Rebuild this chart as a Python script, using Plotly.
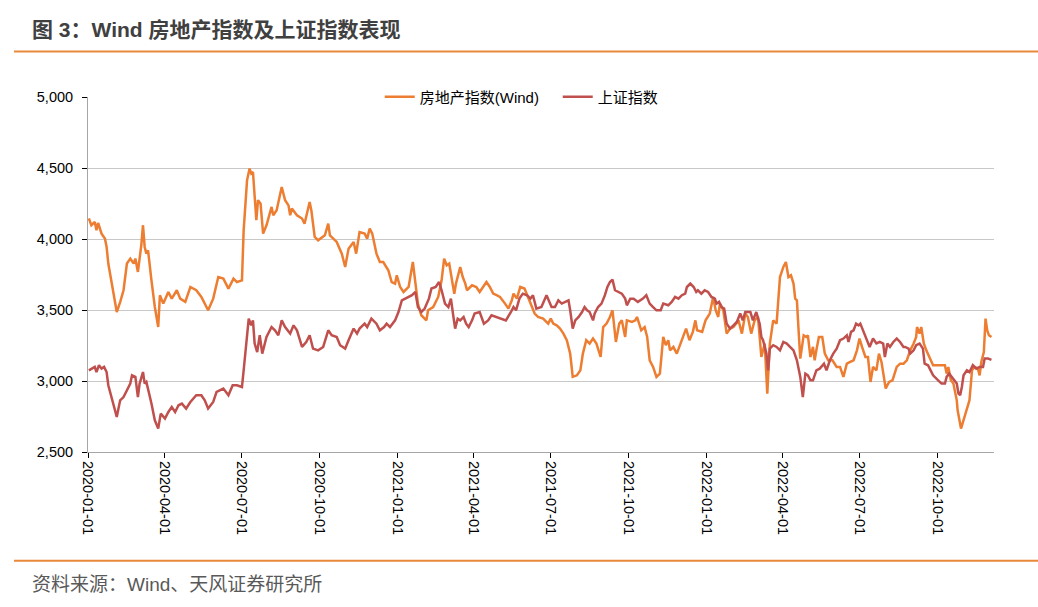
import plotly.graph_objects as go

# ---------------- data ----------------
re_dates = [
    "2020-01-02", "2020-01-05", "2020-01-09", "2020-01-11", "2020-01-13", "2020-01-17", "2020-01-21", "2020-01-23",
    "2020-01-25", "2020-02-04", "2020-02-08", "2020-02-12", "2020-02-16", "2020-02-20", "2020-02-24", "2020-02-26",
    "2020-02-29", "2020-03-02", "2020-03-04", "2020-03-06", "2020-03-08", "2020-03-10", "2020-03-12", "2020-03-16",
    "2020-03-20", "2020-03-24", "2020-03-26", "2020-03-30", "2020-04-05", "2020-04-09", "2020-04-15", "2020-04-19",
    "2020-04-25", "2020-05-01", "2020-05-08", "2020-05-14", "2020-05-22", "2020-05-28", "2020-06-03", "2020-06-09",
    "2020-06-15", "2020-06-21", "2020-06-25", "2020-07-01", "2020-07-03", "2020-07-07", "2020-07-10", "2020-07-12",
    "2020-07-14", "2020-07-18", "2020-07-20", "2020-07-23", "2020-07-26", "2020-07-30", "2020-08-05", "2020-08-07",
    "2020-08-11", "2020-08-17", "2020-08-21", "2020-08-25", "2020-08-27", "2020-08-29", "2020-09-04", "2020-09-10",
    "2020-09-13", "2020-09-19", "2020-09-21", "2020-09-25", "2020-09-29", "2020-10-07", "2020-10-11", "2020-10-13",
    "2020-10-21", "2020-10-27", "2020-10-31", "2020-11-04", "2020-11-10", "2020-11-13", "2020-11-17", "2020-11-23",
    "2020-11-26", "2020-11-29", "2020-12-02", "2020-12-07", "2020-12-11", "2020-12-15", "2020-12-19", "2020-12-21",
    "2020-12-25", "2020-12-29", "2020-12-31", "2021-01-04", "2021-01-08", "2021-01-14", "2021-01-19", "2021-01-22",
    "2021-01-25", "2021-01-29", "2021-02-04", "2021-02-06", "2021-02-12", "2021-02-18", "2021-02-22", "2021-02-25",
    "2021-02-28", "2021-03-03", "2021-03-06", "2021-03-09", "2021-03-11", "2021-03-16", "2021-03-19", "2021-03-22",
    "2021-03-24", "2021-03-30", "2021-04-04", "2021-04-08", "2021-04-12", "2021-04-16", "2021-04-20", "2021-04-24",
    "2021-04-28", "2021-05-02", "2021-05-08", "2021-05-12", "2021-05-16", "2021-05-18", "2021-05-22", "2021-05-26",
    "2021-05-31", "2021-06-04", "2021-06-08", "2021-06-12", "2021-06-16", "2021-06-22", "2021-06-28", "2021-07-01",
    "2021-07-04", "2021-07-08", "2021-07-12", "2021-07-16", "2021-07-20", "2021-07-24", "2021-07-27", "2021-08-01",
    "2021-08-05", "2021-08-08", "2021-08-12", "2021-08-16", "2021-08-20", "2021-08-24", "2021-08-29", "2021-09-01",
    "2021-09-05", "2021-09-09", "2021-09-12", "2021-09-16", "2021-09-20", "2021-09-23", "2021-09-27", "2021-09-29",
    "2021-10-05", "2021-10-09", "2021-10-11", "2021-10-16", "2021-10-20", "2021-10-23", "2021-10-26", "2021-10-30",
    "2021-11-03", "2021-11-07", "2021-11-11", "2021-11-14", "2021-11-17", "2021-11-19", "2021-11-23", "2021-11-27",
    "2021-11-30", "2021-12-03", "2021-12-08", "2021-12-12", "2021-12-16", "2021-12-19", "2021-12-21", "2021-12-27",
    "2021-12-31", "2022-01-05", "2022-01-09", "2022-01-12", "2022-01-15", "2022-01-17", "2022-01-21", "2022-01-25",
    "2022-01-29", "2022-02-02", "2022-02-08", "2022-02-12", "2022-02-16", "2022-02-19", "2022-02-23", "2022-02-27",
    "2022-03-03", "2022-03-07", "2022-03-11", "2022-03-14", "2022-03-17", "2022-03-21", "2022-03-25", "2022-03-29",
    "2022-04-02", "2022-04-05", "2022-04-08", "2022-04-11", "2022-04-14", "2022-04-16", "2022-04-18", "2022-04-20",
    "2022-04-22", "2022-04-26", "2022-04-29", "2022-05-01", "2022-05-04", "2022-05-07", "2022-05-09", "2022-05-11",
    "2022-05-14", "2022-05-18", "2022-05-21", "2022-05-25", "2022-05-30", "2022-06-04", "2022-06-08", "2022-06-12",
    "2022-06-16", "2022-06-20", "2022-06-24", "2022-06-28", "2022-07-01", "2022-07-04", "2022-07-08", "2022-07-11",
    "2022-07-14", "2022-07-17", "2022-07-21", "2022-07-24", "2022-07-27", "2022-08-01", "2022-08-05", "2022-08-09",
    "2022-08-14", "2022-08-18", "2022-08-22", "2022-08-26", "2022-08-30", "2022-09-03", "2022-09-06", "2022-09-07",
    "2022-09-10", "2022-09-12", "2022-09-15", "2022-09-18", "2022-09-22", "2022-09-26", "2022-10-04", "2022-10-10",
    "2022-10-12", "2022-10-14", "2022-10-17", "2022-10-20", "2022-10-24", "2022-10-25", "2022-10-29", "2022-11-01",
    "2022-11-05", "2022-11-08", "2022-11-11", "2022-11-14", "2022-11-18", "2022-11-20", "2022-11-22", "2022-11-25",
    "2022-11-27", "2022-11-29", "2022-12-01", "2022-12-04",
]
re_values = [
    4144, 4097, 4120, 4061, 4113, 4038, 4003, 3944,
    3827, 3486, 3556, 3639, 3827, 3862, 3827, 3862,
    3768, 3862, 3956, 4097, 3944, 3897, 3920, 3709,
    3521, 3380, 3604, 3545, 3627, 3580, 3639, 3580,
    3557, 3662, 3639, 3592, 3498, 3580, 3732, 3721,
    3651, 3721, 3697, 3709, 4061, 4413, 4496, 4461,
    4472, 4132, 4273, 4249, 4038, 4097, 4226, 4167,
    4202, 4366, 4273, 4237, 4167, 4214, 4167, 4144,
    4108, 4261, 4202, 4014, 3991, 4026, 4108, 4026,
    3979, 3897, 3803, 3932, 3979, 3897, 4049, 4038,
    4003, 4073, 4038, 3897, 3838, 3838, 3803, 3780,
    3697, 3686, 3744, 3662, 3627, 3662, 3838, 3686,
    3545, 3463, 3427, 3498, 3521, 3592, 3709, 3862,
    3815, 3827, 3709, 3615, 3686, 3803, 3732, 3686,
    3639, 3674, 3662, 3627, 3662, 3697, 3662, 3615,
    3604, 3592, 3545, 3510, 3568, 3615, 3580, 3662,
    3651, 3592, 3545, 3475, 3451, 3439, 3404, 3439,
    3404, 3392, 3369, 3334, 3287, 3193, 3029, 3040,
    3075, 3193, 3287, 3264, 3299, 3264, 3169, 3380,
    3404, 3451, 3498, 3275, 3404, 3427, 3310, 3427,
    3416, 3427, 3451, 3357, 3380, 3310, 3146, 3099,
    3029, 3052, 3310, 3252, 3287, 3216, 3240, 3193,
    3240, 3287, 3369, 3287, 3346, 3427, 3357, 3346,
    3427, 3475, 3592, 3498, 3451, 3545, 3498, 3334,
    3369, 3380, 3427, 3334, 3475, 3451, 3334, 3427,
    3451, 3169, 3264, 2911, 3264, 3427, 3404, 3732,
    3803, 3838, 3732, 3744, 3686, 3580, 3568, 3357,
    3158, 3322, 3310, 3322, 3169, 3240, 3146, 3216,
    3310, 3310, 3193, 3146, 3146, 3099, 3099, 3029,
    3122, 3134, 3146, 3216, 3299, 3240, 3169, 3169,
    2993, 3099, 3075, 3193, 3134, 2947, 2993, 3005,
    3099, 3122, 3122, 3146, 3216, 3264, 3310, 3380,
    3334, 3380, 3264, 3216, 3169, 3111, 3111, 3111,
    3052, 3099, 3005, 2982, 2864, 2794, 2665, 2723,
    2794, 2864, 3075, 3099, 3087, 3040, 3134, 3204,
    3439, 3357, 3322, 3310,
]

sh_dates = [
    "2020-01-02", "2020-01-05", "2020-01-09", "2020-01-11", "2020-01-14", "2020-01-17", "2020-01-20", "2020-01-23",
    "2020-01-25", "2020-02-04", "2020-02-08", "2020-02-12", "2020-02-16", "2020-02-20", "2020-02-22", "2020-02-26",
    "2020-02-29", "2020-03-02", "2020-03-06", "2020-03-08", "2020-03-10", "2020-03-12", "2020-03-16", "2020-03-20",
    "2020-03-24", "2020-03-27", "2020-04-01", "2020-04-05", "2020-04-09", "2020-04-13", "2020-04-17", "2020-04-21",
    "2020-04-26", "2020-05-01", "2020-05-08", "2020-05-14", "2020-05-18", "2020-05-22", "2020-05-28", "2020-06-01",
    "2020-06-09", "2020-06-15", "2020-06-20", "2020-06-25", "2020-07-01", "2020-07-03", "2020-07-07", "2020-07-09",
    "2020-07-12", "2020-07-14", "2020-07-16", "2020-07-19", "2020-07-22", "2020-07-25", "2020-07-30", "2020-08-05",
    "2020-08-09", "2020-08-13", "2020-08-17", "2020-08-21", "2020-08-27", "2020-08-31", "2020-09-04", "2020-09-10",
    "2020-09-15", "2020-09-19", "2020-09-23", "2020-09-29", "2020-10-05", "2020-10-11", "2020-10-15", "2020-10-21",
    "2020-10-25", "2020-10-31", "2020-11-04", "2020-11-10", "2020-11-14", "2020-11-17", "2020-11-23", "2020-11-26",
    "2020-12-01", "2020-12-07", "2020-12-11", "2020-12-16", "2020-12-19", "2020-12-23", "2020-12-29", "2021-01-02",
    "2021-01-06", "2021-01-10", "2021-01-14", "2021-01-18", "2021-01-22", "2021-01-25", "2021-01-29", "2021-02-02",
    "2021-02-07", "2021-02-10", "2021-02-15", "2021-02-19", "2021-02-22", "2021-02-26", "2021-03-02", "2021-03-05",
    "2021-03-08", "2021-03-10", "2021-03-13", "2021-03-16", "2021-03-20", "2021-03-23", "2021-03-26", "2021-03-30",
    "2021-04-02", "2021-04-08", "2021-04-13", "2021-04-18", "2021-04-22", "2021-04-28", "2021-05-04", "2021-05-09",
    "2021-05-15", "2021-05-18", "2021-05-21", "2021-05-25", "2021-05-29", "2021-06-03", "2021-06-07", "2021-06-10",
    "2021-06-14", "2021-06-20", "2021-06-26", "2021-07-02", "2021-07-06", "2021-07-10", "2021-07-14", "2021-07-18",
    "2021-07-22", "2021-07-24", "2021-07-27", "2021-07-30", "2021-08-03", "2021-08-07", "2021-08-10", "2021-08-13",
    "2021-08-16", "2021-08-20", "2021-08-22", "2021-08-26", "2021-08-30", "2021-09-03", "2021-09-06", "2021-09-09",
    "2021-09-12", "2021-09-15", "2021-09-19", "2021-09-23", "2021-09-27", "2021-09-29", "2021-10-03", "2021-10-07",
    "2021-10-12", "2021-10-18", "2021-10-22", "2021-10-26", "2021-10-30", "2021-11-03", "2021-11-08", "2021-11-11",
    "2021-11-17", "2021-11-21", "2021-11-25", "2021-11-29", "2021-12-03", "2021-12-07", "2021-12-09", "2021-12-13",
    "2021-12-17", "2021-12-20", "2021-12-22", "2021-12-26", "2021-12-30", "2022-01-03", "2022-01-07", "2022-01-11",
    "2022-01-13", "2022-01-16", "2022-01-19", "2022-01-22", "2022-01-25", "2022-01-29", "2022-02-02", "2022-02-06",
    "2022-02-10", "2022-02-13", "2022-02-16", "2022-02-22", "2022-02-25", "2022-03-01", "2022-03-05", "2022-03-07",
    "2022-03-09", "2022-03-13", "2022-03-15", "2022-03-17", "2022-03-21", "2022-03-25", "2022-03-29", "2022-04-02",
    "2022-04-06", "2022-04-10", "2022-04-14", "2022-04-18", "2022-04-22", "2022-04-25", "2022-04-28", "2022-05-01",
    "2022-05-04", "2022-05-07", "2022-05-11", "2022-05-15", "2022-05-20", "2022-05-23", "2022-05-27", "2022-05-31",
    "2022-06-04", "2022-06-08", "2022-06-12", "2022-06-16", "2022-06-18", "2022-06-21", "2022-06-24", "2022-06-27",
    "2022-06-30", "2022-07-02", "2022-07-05", "2022-07-09", "2022-07-13", "2022-07-17", "2022-07-21", "2022-07-25",
    "2022-07-29", "2022-07-31", "2022-08-03", "2022-08-06", "2022-08-10", "2022-08-14", "2022-08-18", "2022-08-22",
    "2022-08-24", "2022-08-28", "2022-08-30", "2022-09-03", "2022-09-06", "2022-09-10", "2022-09-14", "2022-09-16",
    "2022-09-20", "2022-09-22", "2022-09-26", "2022-10-02", "2022-10-06", "2022-10-10", "2022-10-12", "2022-10-15",
    "2022-10-18", "2022-10-21", "2022-10-24", "2022-10-26", "2022-10-28", "2022-10-30", "2022-11-01", "2022-11-05",
    "2022-11-08", "2022-11-12", "2022-11-16", "2022-11-20", "2022-11-24", "2022-11-26", "2022-11-30", "2022-12-04",
]
sh_values = [
    3075, 3087, 3099, 3063, 3111, 3087, 3099, 3063,
    2970, 2747, 2864, 2887, 2934, 2982, 3040, 3029,
    2887, 2982, 3063, 2982, 2993, 2947, 2841, 2723,
    2665, 2770, 2735, 2782, 2817, 2782, 2829, 2841,
    2806, 2852, 2900, 2900, 2864, 2806, 2852, 2923,
    2947, 2900, 2970, 2970, 2958, 3075, 3310, 3439,
    3392, 3427, 3264, 3204, 3322, 3193, 3310, 3380,
    3357, 3322, 3427, 3380, 3334, 3392, 3357, 3240,
    3275, 3322, 3228, 3216, 3240, 3357, 3322, 3310,
    3252, 3228, 3287, 3369, 3334, 3369, 3404, 3380,
    3439, 3404, 3357, 3380, 3404, 3380, 3427, 3486,
    3568, 3580, 3592, 3604, 3627, 3521, 3486, 3510,
    3580, 3651, 3662, 3697, 3639, 3545, 3521, 3580,
    3451, 3369, 3439, 3427, 3451, 3404, 3380, 3427,
    3475, 3486, 3404, 3427, 3463, 3451, 3439, 3427,
    3486, 3521, 3498, 3580, 3615, 3604, 3580, 3604,
    3510, 3521, 3604, 3521, 3521, 3568, 3545, 3557,
    3568, 3498, 3369, 3427, 3451, 3486, 3521, 3498,
    3486, 3427, 3475, 3521, 3545, 3604, 3662, 3697,
    3714, 3639, 3627, 3615, 3580, 3533, 3580, 3580,
    3557, 3580, 3604, 3545, 3521, 3498, 3498, 3545,
    3533, 3557, 3592, 3580, 3604, 3615, 3662, 3686,
    3662, 3627, 3639, 3615, 3639, 3627, 3592, 3580,
    3545, 3557, 3521, 3510, 3404, 3369, 3392, 3416,
    3475, 3427, 3486, 3486, 3427, 3486, 3404, 3310,
    3287, 3193, 3075, 3228, 3252, 3240, 3216, 3275,
    3264, 3240, 3216, 3146, 3029, 2887, 3052, 3040,
    3005, 3005, 3075, 3087, 3122, 3075, 3146, 3193,
    3228, 3287, 3299, 3322, 3275, 3346, 3357, 3404,
    3392, 3404, 3357, 3299, 3240, 3299, 3264, 3275,
    3264, 3169, 3264, 3240, 3275, 3299, 3275, 3240,
    3240, 3228, 3193, 3216, 3252, 3264, 3228, 3122,
    3111, 3087, 3040, 3005, 2982, 2982, 3029, 3052,
    3029, 3005, 2982, 2911, 2900, 2958, 3040, 3075,
    3063, 3111, 3087, 3099, 3099, 3158, 3158, 3149,
]

series_names = ["房地产指数(Wind)", "上证指数"]
x_tick_dates = ["2020-01-01", "2020-04-01", "2020-07-01", "2020-10-01", "2021-01-01", "2021-04-01",
                "2021-07-01", "2021-10-01", "2022-01-01", "2022-04-01", "2022-07-01", "2022-10-01"]
y_ticks = [2500, 3000, 3500, 4000, 4500, 5000]
title_text = "图 3：Wind 房地产指数及上证指数表现"
source_text = "资料来源：Wind、天风证券研究所"

# ---------------- styles ----------------
ORANGE = "#ED7D31"
RED = "#C0504D"
ACCENT = "#E9893B"
LATIN_CJK = "Liberation Sans, Arial, Noto Sans CJK SC, sans-serif"

fig = go.Figure()
fig.add_trace(go.Scatter(x=re_dates, y=re_values, mode="lines", name=series_names[0],
                         line=dict(color=ORANGE, width=2.5)))
fig.add_trace(go.Scatter(x=sh_dates, y=sh_values, mode="lines", name=series_names[1],
                         line=dict(color=RED, width=2.5)))

fig.update_layout(
    width=1038, height=607,
    margin=dict(l=88, r=44, t=97, b=155),
    paper_bgcolor="white", plot_bgcolor="white",
    font=dict(family=LATIN_CJK, color="#000000"),
    showlegend=True,
    legend=dict(orientation="h", x=0.322, xanchor="left", y=1.0, yanchor="middle",
                bgcolor="rgba(0,0,0,0)", font=dict(size=15, color="#000000", family=LATIN_CJK),
                entrywidth=133, entrywidthmode="pixels", itemwidth=30),
    xaxis=dict(type="date", range=["2020-01-01", "2022-12-07"],
               tickvals=x_tick_dates, ticktext=x_tick_dates, tickangle=90,
               ticks="outside", ticklen=5, tickcolor="#000000", tickwidth=1,
               showline=True, linecolor="#A6A6A6", linewidth=1,
               showgrid=False, zeroline=False,
               tickfont=dict(size=14.5, color="#000000", family=LATIN_CJK)),
    yaxis=dict(range=[2500, 5000], tickvals=y_ticks, tickformat=",",
               ticks="outside", ticklen=5, tickcolor="#000000", tickwidth=1,
               showline=True, linecolor="#A6A6A6", linewidth=1,
               showgrid=True, gridcolor="#C8C8C8", gridwidth=1, zeroline=False,
               ticklabelstandoff=6,
               tickfont=dict(size=14.5, color="#000000", family=LATIN_CJK)),
)

# title, source and orange rules
fig.add_annotation(text="<b>" + title_text + "</b>", xref="paper", yref="paper",
                   x=-0.064, y=1.189, xanchor="left", yanchor="middle", showarrow=False,
                   font=dict(size=21, color="#404040", family=LATIN_CJK))
fig.add_annotation(text=source_text, xref="paper", yref="paper",
                   x=-0.064, y=-0.372, xanchor="left", yanchor="middle", showarrow=False,
                   font=dict(size=19, color="#595959", family=LATIN_CJK))
fig.add_shape(type="line", xref="paper", yref="paper", x0=-0.0817, x1=1.0486, y0=1.128, y1=1.128,
              line=dict(color=ACCENT, width=2))
fig.add_shape(type="line", xref="paper", yref="paper", x0=-0.0817, x1=1.0486, y0=-0.306, y1=-0.306,
              line=dict(color=ACCENT, width=2))

fig.write_html("out.html", config={"displayModeBar": False})
